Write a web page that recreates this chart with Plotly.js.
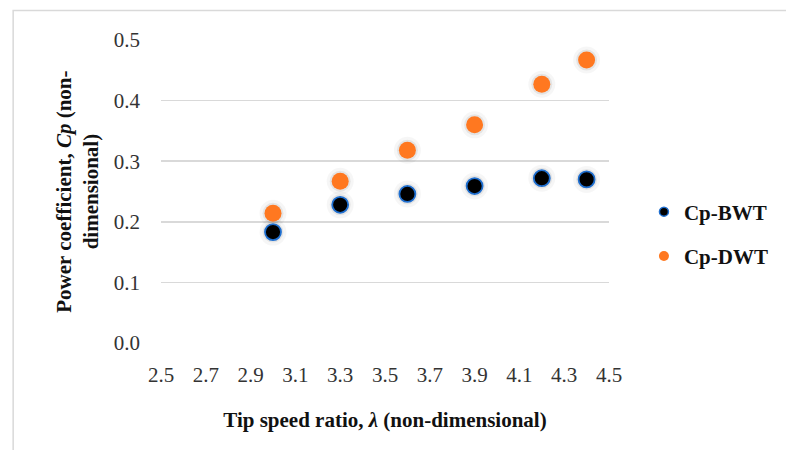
<!DOCTYPE html>
<html>
<head>
<meta charset="utf-8">
<script src="https://cdn.plot.ly/plotly-3.0.1.min.js"></script>
<style>html,body{margin:0;padding:0;background:#fff}#chart{width:786px;height:450px}</style>
</head>
<body>
<div id="chart"></div>
<script>
const tsr = [3.0, 3.3, 3.6, 3.9, 4.2, 4.4];
const cpBWT = [0.183, 0.228, 0.246, 0.259, 0.272, 0.270];
const cpDWT = [0.214, 0.267, 0.318, 0.360, 0.427, 0.467];
const seriesNames = ['Cp-BWT', 'Cp-DWT'];
const xTicks = [2.5, 2.7, 2.9, 3.1, 3.3, 3.5, 3.7, 3.9, 4.1, 4.3, 4.5];
const yTicks = [0.0, 0.1, 0.2, 0.3, 0.4, 0.5];

const FONT = 'Liberation Serif, "DejaVu Serif", serif';
const allY = cpBWT.concat(cpDWT);
const allX = tsr.concat(tsr);

const traces = [
  {x: allX, y: allY, type: 'scatter', mode: 'markers', showlegend: false, hoverinfo: 'skip',
   marker: {size: 27, color: 'rgba(0,0,0,0.035)'}},
  {x: allX, y: allY, type: 'scatter', mode: 'markers', showlegend: false, hoverinfo: 'skip',
   marker: {size: 21, color: 'rgba(0,0,0,0.07)'}},
  {x: tsr, y: cpBWT, type: 'scatter', mode: 'markers', name: seriesNames[0], showlegend: false,
   marker: {size: 16, color: '#000000', line: {color: '#1f6fd0', width: 1.8}}},
  {x: tsr, y: cpDWT, type: 'scatter', mode: 'markers', name: seriesNames[1], showlegend: false,
   marker: {size: 17, color: '#ff7820', line: {width: 0}}},
  {x: [null], y: [null], type: 'scatter', mode: 'markers', name: seriesNames[0], legendgroup: 'a',
   marker: {size: 9, color: '#000000', line: {color: '#1f6fd0', width: 1.5}}},
  {x: [null], y: [null], type: 'scatter', mode: 'markers', name: seriesNames[1], legendgroup: 'b',
   marker: {size: 10, color: '#ff7820'}}
];

const layout = {
  width: 786, height: 450,
  margin: {l: 161, r: 177, t: 40, b: 107},
  paper_bgcolor: '#ffffff', plot_bgcolor: '#ffffff',
  font: {family: FONT, size: 21, color: '#222'},
  xaxis: {
    range: [2.5, 4.5], tickvals: xTicks, ticktext: xTicks.map(v => v.toFixed(1)),
    showgrid: false, zeroline: false, showline: false, ticks: '',
    ticklabelstandoff: 17,
    tickfont: {family: FONT, size: 21, color: '#333'},
    title: {text: '<b>Tip speed ratio, <i>λ</i> (non-dimensional)</b>', font: {family: FONT, size: 21, color: '#111'}, standoff: 26}
  },
  yaxis: {
    range: [0, 0.5], tickvals: yTicks, ticktext: yTicks.map(v => v.toFixed(1)),
    showgrid: true, gridcolor: '#d9d9d9', gridwidth: 1.6, zeroline: false, showline: false, ticks: '',
    ticklabelstandoff: 20,
    tickfont: {family: FONT, size: 21, color: '#333'}
  },
  legend: {
    x: 1.078, xanchor: 'left', y: 0.5, yanchor: 'top',
    traceorder: 'grouped', tracegroupgap: 14,
    font: {family: FONT, size: 21, color: '#111', weight: 'bold'},
    itemwidth: 30, bgcolor: 'rgba(0,0,0,0)'
  },
  annotations: [{
    xref: 'paper', yref: 'paper', x: -0.187, y: 0.5, xanchor: 'center', yanchor: 'middle',
    textangle: -90, showarrow: false,
    text: '<b>Power coefficient, <i>Cp</i> (non-<br>dimensional)</b>',
    font: {family: FONT, size: 21, color: '#111'}
  }],
  shapes: [{
    type: 'path', xref: 'paper', yref: 'paper',
    path: 'M -0.330 -0.5 L -0.330 1.0975 L 1.5 1.0975',
    line: {color: '#d9d9d9', width: 1.5}
  }]
};

Plotly.newPlot('chart', traces, layout, {displayModeBar: false, staticPlot: true});
</script>
</body>
</html>
